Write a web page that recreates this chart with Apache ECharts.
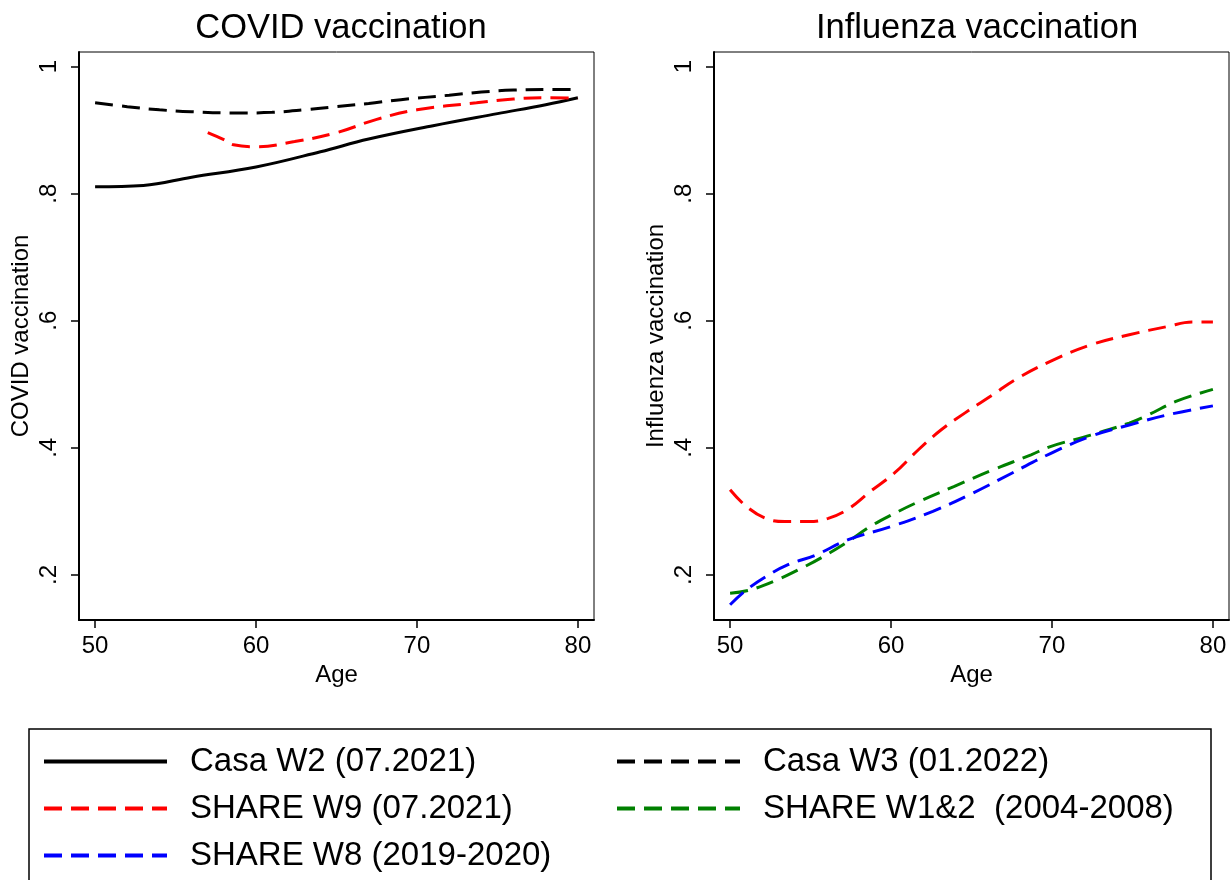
<!DOCTYPE html>
<html>
<head>
<meta charset="utf-8">
<script src="https://cdn.jsdelivr.net/npm/echarts@6/dist/echarts.min.js"></script>
<style>
    html, body { margin: 0; padding: 0; background: #fff }
    #chart { width: 1231px; height: 880px }
</style>
</head>
<body>
<div id="chart"></div>
<script>
// COVID panel
const AGE_CASA_W2 = [50, 53, 56, 60, 64, 67, 71, 75, 78, 80]
const CASA_W2 = [0.811, 0.813, 0.826, 0.842, 0.866, 0.886, 0.907, 0.926, 0.940, 0.951]
const AGE_CASA_W3 = [50, 52, 54, 56, 59, 61, 63, 65, 67, 69, 72, 74, 76, 78, 80]
const CASA_W3 = [0.943, 0.937, 0.932, 0.929, 0.927, 0.928, 0.932, 0.937, 0.942, 0.948, 0.955, 0.960, 0.963, 0.964, 0.964]
const AGE_COVID_W9 = [57, 58, 58.6, 60, 62.4, 65, 67.5, 70, 73.7, 76, 78, 80]
const COVID_W9 = [0.896, 0.885, 0.877, 0.874, 0.882, 0.896, 0.917, 0.932, 0.943, 0.949, 0.951, 0.950]

// Influenza panel
const AGE_FLU_W9 = [50, 51, 52.2, 53.4, 54.9, 56.1, 57.3, 58.7, 60.2, 61.7, 63.1, 64.6, 66.3, 67.7, 69.9, 72.4, 74.8, 77.2, 78.7, 80]
const FLU_W9 = [0.334, 0.308, 0.289, 0.284, 0.284, 0.289, 0.303, 0.331, 0.360, 0.397, 0.428, 0.455, 0.483, 0.507, 0.536, 0.562, 0.578, 0.591, 0.598, 0.598]
const AGE_FLU_W12 = [50, 51.2, 52.9, 54.4, 55.8, 57.3, 58.7, 60, 61.7, 63.9, 66.3, 68.7, 69.9, 72.4, 74.8, 76, 77.7, 80]
const FLU_W12 = [0.171, 0.176, 0.192, 0.210, 0.229, 0.252, 0.276, 0.294, 0.315, 0.339, 0.365, 0.389, 0.402, 0.420, 0.439, 0.452, 0.473, 0.492]
const AGE_FLU_W8 = [50, 51, 52.2, 53.6, 55.3, 57.3, 60, 62.6, 65.1, 67.5, 69.9, 72.4, 74.8, 77.2, 80]
const FLU_W8 = [0.153, 0.176, 0.197, 0.216, 0.231, 0.255, 0.276, 0.300, 0.329, 0.360, 0.391, 0.418, 0.436, 0.452, 0.466]

const X_TICKS = [50, 60, 70, 80]
const Y_TICKS = [0.2, 0.4, 0.6, 0.8, 1]
const Y_LABELS = [".2", ".4", ".6", ".8", "1"]
const NAMES = ["Casa W2 (07.2021)", "Casa W3 (01.2022)", "SHARE W9 (07.2021)", "SHARE W1&2  (2004-2008)", "SHARE W8 (2019-2020)"]

const FONT = "Liberation Sans, Arial, sans-serif"
const DASH = [18, 9]

const zip = (xs, ys) => xs.map((x, i) => [x, ys[i]])

function xAxis(idx) {
    return {
        type: "value", gridIndex: idx, min: 49, max: 81,
        name: "Age", nameLocation: "middle", nameGap: 41,
        nameTextStyle: { fontSize: 24, fontFamily: FONT, color: "#000" },
        splitLine: { show: false },
        axisLine: { lineStyle: { color: "#000", width: 2 } },
        axisTick: { length: 8, lineStyle: { color: "#000", width: 1.5 }, customValues: X_TICKS },
        axisLabel: { fontSize: 24, fontFamily: FONT, color: "#000", margin: 14, customValues: X_TICKS }
    }
}

function yAxis(idx, name) {
    return {
        type: "value", gridIndex: idx, min: 0.129, max: 1.023,
        name, nameLocation: "middle", nameGap: 46, nameRotate: 90,
        nameTextStyle: { fontSize: 24, fontFamily: FONT, color: "#000" },
        splitLine: { show: false },
        axisLine: { show: true, lineStyle: { color: "#000", width: 2 } },
        axisTick: { length: 8, lineStyle: { color: "#000", width: 1.5 }, customValues: Y_TICKS },
        axisLabel: {
            fontSize: 24, fontFamily: FONT, color: "#000", margin: 18, rotate: 90,
            customValues: Y_TICKS,
            formatter: v => Y_LABELS[Y_TICKS.findIndex(t => Math.abs(t - v) < 1e-6)] || ""
        }
    }
}

function line(name, idx, data, color, dashed) {
    return {
        type: "line", name, xAxisIndex: idx, yAxisIndex: idx,
        data, smooth: 0.4, symbol: "none",
        lineStyle: { color, width: 3, type: dashed ? DASH : "solid" },
        itemStyle: { color }
    }
}

const legendBase = {
    orient: "vertical", top: 745, padding: 0, itemWidth: 123, itemHeight: 14, itemGap: 14,
    textStyle: { fontSize: 33, fontFamily: FONT, color: "#000", padding: [0, 0, 0, 18] },
    lineStyle: { width: 4 },
    itemStyle: { opacity: 0 },
    selectedMode: false
}

const chart = echarts.init(document.getElementById("chart"))
chart.setOption({
    animation: false,
    backgroundColor: "#fff",
    title: [
        { text: "COVID vaccination", left: 336, top: 6, textAlign: "center", textStyle: { fontSize: 34.5, fontWeight: "normal", fontFamily: FONT, color: "#000" } },
        { text: "Influenza vaccination", left: 972, top: 6, textAlign: "center", textStyle: { fontSize: 34.5, fontWeight: "normal", fontFamily: FONT, color: "#000" } }
    ],
    grid: [
        { left: 79, top: 52, width: 515, height: 568, show: true, borderColor: "#000", borderWidth: 1, backgroundColor: "#fff" },
        { left: 714, top: 52, width: 515, height: 568, show: true, borderColor: "#000", borderWidth: 1, backgroundColor: "#fff" }
    ],
    xAxis: [xAxis(0), xAxis(1)],
    yAxis: [yAxis(0, "COVID vaccination"), yAxis(1, "Influenza vaccination")],
    legend: [
        Object.assign({}, legendBase, { left: 42, data: [NAMES[0], NAMES[2], NAMES[4]] }),
        Object.assign({}, legendBase, { left: 615, data: [NAMES[1], NAMES[3]] })
    ],
    graphic: [{
        type: "rect", shape: { x: 29, y: 729, width: 1182, height: 200 },
        style: { fill: null, stroke: "#000", lineWidth: 1.5 }
    }],
    series: [
        line(NAMES[0], 0, zip(AGE_CASA_W2, CASA_W2), "#000", false),
        line(NAMES[1], 0, zip(AGE_CASA_W3, CASA_W3), "#000", true),
        line(NAMES[2], 0, zip(AGE_COVID_W9, COVID_W9), "#ff0000", true),
        line(NAMES[2], 1, zip(AGE_FLU_W9, FLU_W9), "#ff0000", true),
        line(NAMES[3], 1, zip(AGE_FLU_W12, FLU_W12), "#008000", true),
        line(NAMES[4], 1, zip(AGE_FLU_W8, FLU_W8), "#0000ff", true)
    ]
})
</script>
</body>
</html>
